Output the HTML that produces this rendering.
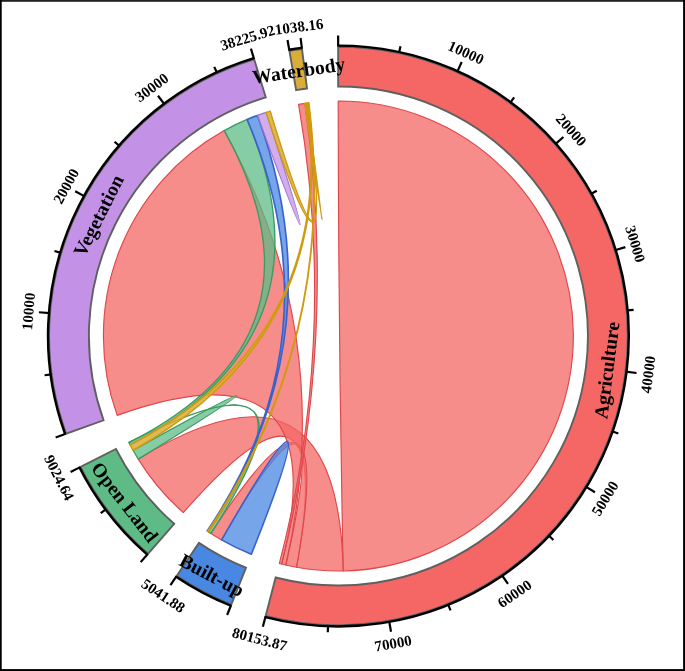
<!DOCTYPE html><html><head><meta charset="utf-8"><style>html,body{margin:0;padding:0;background:#fff;}svg{display:block;will-change:transform;filter:blur(0.3px);}text{font-family:"Liberation Serif",serif;font-weight:bold;fill:#000;}</style></head><body>
<svg width="685" height="671" viewBox="0 0 685 671">
<rect x="0" y="0" width="685" height="671" fill="#fff"/>
<path d="M338.15,46.70 A289.3,289.3 0 1 1 265.65,616.00 L275.66,577.48 A249.5,249.5 0 1 0 338.18,86.50 Z" fill="#F46764" stroke="#606060" stroke-width="1.9"/>
<path d="M231.23,604.72 A289.3,289.3 0 0 1 176.69,575.88 L198.93,542.88 A249.5,249.5 0 0 0 245.97,567.75 Z" fill="#4887E2" stroke="#606060" stroke-width="1.9"/>
<path d="M147.97,553.79 A289.3,289.3 0 0 1 80.46,466.99 L115.94,448.97 A249.5,249.5 0 0 0 174.17,523.83 Z" fill="#5EBB85" stroke="#606060" stroke-width="1.9"/>
<path d="M66.11,433.73 A289.3,289.3 0 0 1 254.15,59.24 L265.74,97.31 A249.5,249.5 0 0 0 103.57,420.28 Z" fill="#C392E6" stroke="#606060" stroke-width="1.9"/>
<path d="M289.41,50.88 A289.3,289.3 0 0 1 301.99,49.00 L307.00,88.48 A249.5,249.5 0 0 0 296.15,90.10 Z" fill="#D9AD38" stroke="#606060" stroke-width="1.9"/>
<path d="M338.19,101.00 A235.00,235.00 0 0 1 343.20,570.95 Q338.40,336.00 338.19,101.00 Z" fill="#F46764" fill-opacity="0.75" stroke="#DE474B" stroke-width="1.15" stroke-linejoin="round"/>
<path d="M343.20,570.95 A235.00,235.00 0 0 1 296.54,567.24 Q338.40,336.00 183.34,512.59 A235.00,235.00 0 0 1 138.24,459.14 Q338.40,336.00 343.20,570.95 Z" fill="#F46764" fill-opacity="0.75" stroke="#DE474B" stroke-width="1.15" stroke-linejoin="round"/>
<path d="M296.54,567.24 A235.00,235.00 0 0 1 285.78,565.03 Q338.40,336.00 221.61,539.92 A235.00,235.00 0 0 1 210.93,533.42 Q338.40,336.00 296.54,567.24 Z" fill="#F46764" fill-opacity="0.75" stroke="#DE474B" stroke-width="1.15" stroke-linejoin="round"/>
<path d="M285.78,565.03 A235.00,235.00 0 0 1 281.71,564.06 Q338.40,336.00 117.21,415.38 A235.00,235.00 0 0 1 224.25,130.58 Q338.40,336.00 285.78,565.03 Z" fill="#F46764" fill-opacity="0.75" stroke="#DE474B" stroke-width="1.15" stroke-linejoin="round"/>
<path d="M281.71,564.06 A235.00,235.00 0 0 1 279.36,563.46 Q338.40,336.00 298.60,104.39 A235.00,235.00 0 0 1 304.88,103.40 Q338.40,336.00 281.71,564.06 Z" fill="#F46764" fill-opacity="0.75" stroke="#DE474B" stroke-width="1.15" stroke-linejoin="round"/>
<path d="M251.34,554.28 A235.00,235.00 0 0 1 221.61,539.92 Q338.40,336.00 251.34,554.28 Z" fill="#4887E2" fill-opacity="0.75" stroke="#3A62CC" stroke-width="1.6" stroke-linejoin="round"/>
<path d="M138.24,459.14 A235.00,235.00 0 0 1 133.06,450.29 Q338.40,336.00 138.24,459.14 Z" fill="#5EBB85" fill-opacity="0.75" stroke="#3A9A62" stroke-width="1.3" stroke-linejoin="round"/>
<path d="M128.96,442.58 A235.00,235.00 0 0 1 128.83,442.32 Q338.40,336.00 210.93,533.42 A235.00,235.00 0 0 1 208.52,531.85 Q338.40,336.00 128.96,442.58 Z" fill="#5EBB85" fill-opacity="0.75" stroke="#3A9A62" stroke-width="1.3" stroke-linejoin="round"/>
<path d="M224.25,130.58 A235.00,235.00 0 0 1 247.11,119.46 Q338.40,336.00 130.18,444.95 A235.00,235.00 0 0 1 128.96,442.58 Q338.40,336.00 224.25,130.58 Z" fill="#5EBB85" fill-opacity="0.75" stroke="#3A9A62" stroke-width="1.3" stroke-linejoin="round"/>
<path d="M247.11,119.46 A235.00,235.00 0 0 1 257.45,115.38 Q338.40,336.00 207.67,531.28 A235.00,235.00 0 0 1 207.16,530.94 Q338.40,336.00 247.11,119.46 Z" fill="#4887E2" fill-opacity="0.75" stroke="#3A62CC" stroke-width="1.6" stroke-linejoin="round"/>
<path d="M257.45,115.38 A235.00,235.00 0 0 1 266.13,112.39 Q338.40,336.00 257.45,115.38 Z" fill="#C392E6" fill-opacity="0.75" stroke="#A070D0" stroke-width="1.2" stroke-linejoin="round"/>
<path d="M266.13,112.39 A235.00,235.00 0 0 1 270.20,111.11 Q338.40,336.00 306.30,103.20 A235.00,235.00 0 0 1 307.12,103.09 Q338.40,336.00 266.13,112.39 Z" fill="#D9AD38" fill-opacity="0.85" stroke="#D09A10" stroke-width="1.5" stroke-linejoin="round"/>
<path d="M133.06,450.29 A235.00,235.00 0 0 1 130.18,444.95 Q338.40,336.00 307.12,103.09 A235.00,235.00 0 0 1 308.34,102.93 Q338.40,336.00 133.06,450.29 Z" fill="#D9AD38" fill-opacity="0.85" stroke="#D09A10" stroke-width="1.5" stroke-linejoin="round"/>
<path d="M208.52,531.85 A235.00,235.00 0 0 1 207.67,531.28 Q338.40,336.00 308.34,102.93 A235.00,235.00 0 0 1 308.87,102.86 Q338.40,336.00 208.52,531.85 Z" fill="#D9AD38" fill-opacity="0.85" stroke="#D09A10" stroke-width="1.5" stroke-linejoin="round"/>
<path d="M304.88,103.40 A235.00,235.00 0 0 1 306.30,103.20 Q338.40,336.00 304.88,103.40 Z" fill="#D9AD38" fill-opacity="0.85" stroke="#D09A10" stroke-width="1.5" stroke-linejoin="round"/>
<path d="M338.15,45.60 A290.40,290.40 0 1 1 265.38,617.07" fill="none" stroke="#000" stroke-width="2.4"/>
<line x1="338.15" y1="46.40" x2="338.14" y2="35.60" stroke="#000" stroke-width="2.2"/>
<line x1="265.58" y1="616.29" x2="262.86" y2="626.75" stroke="#000" stroke-width="2.2"/>
<line x1="399.06" y1="52.82" x2="400.48" y2="46.17" stroke="#000" stroke-width="2.2"/>
<line x1="457.25" y1="71.91" x2="461.68" y2="62.06" stroke="#000" stroke-width="2.2"/>
<line x1="510.13" y1="102.81" x2="514.16" y2="97.34" stroke="#000" stroke-width="2.2"/>
<line x1="555.33" y1="144.14" x2="563.42" y2="136.99" stroke="#000" stroke-width="2.2"/>
<line x1="590.83" y1="194.05" x2="596.75" y2="190.72" stroke="#000" stroke-width="2.2"/>
<line x1="615.03" y1="250.31" x2="625.35" y2="247.12" stroke="#000" stroke-width="2.2"/>
<line x1="626.87" y1="310.41" x2="633.64" y2="309.81" stroke="#000" stroke-width="2.2"/>
<line x1="625.80" y1="371.64" x2="636.52" y2="372.97" stroke="#000" stroke-width="2.2"/>
<line x1="611.87" y1="431.29" x2="618.30" y2="433.52" stroke="#000" stroke-width="2.2"/>
<line x1="585.72" y1="486.67" x2="594.94" y2="492.29" stroke="#000" stroke-width="2.2"/>
<line x1="548.50" y1="535.31" x2="553.44" y2="539.99" stroke="#000" stroke-width="2.2"/>
<line x1="501.89" y1="575.04" x2="507.99" y2="583.95" stroke="#000" stroke-width="2.2"/>
<line x1="447.96" y1="604.07" x2="450.54" y2="610.37" stroke="#000" stroke-width="2.2"/>
<line x1="389.14" y1="621.12" x2="391.03" y2="631.75" stroke="#000" stroke-width="2.2"/>
<line x1="328.04" y1="625.41" x2="327.80" y2="632.21" stroke="#000" stroke-width="2.2"/>
<path d="M230.82,605.74 A290.40,290.40 0 0 1 176.07,576.79" fill="none" stroke="#000" stroke-width="2.4"/>
<line x1="231.12" y1="605.00" x2="227.12" y2="615.03" stroke="#000" stroke-width="2.2"/>
<line x1="176.52" y1="576.13" x2="170.48" y2="585.09" stroke="#000" stroke-width="2.2"/>
<path d="M147.25,554.62 A290.40,290.40 0 0 1 79.47,467.49" fill="none" stroke="#000" stroke-width="2.4"/>
<line x1="147.78" y1="554.01" x2="140.67" y2="562.15" stroke="#000" stroke-width="2.2"/>
<line x1="80.19" y1="467.13" x2="70.56" y2="472.02" stroke="#000" stroke-width="2.2"/>
<line x1="106.19" y1="509.05" x2="100.74" y2="513.11" stroke="#000" stroke-width="2.2"/>
<path d="M65.07,434.10 A290.40,290.40 0 0 1 253.83,58.19" fill="none" stroke="#000" stroke-width="2.4"/>
<line x1="65.82" y1="433.83" x2="55.66" y2="437.48" stroke="#000" stroke-width="2.2"/>
<line x1="254.07" y1="58.95" x2="250.92" y2="48.62" stroke="#000" stroke-width="2.2"/>
<line x1="51.35" y1="374.32" x2="44.61" y2="375.22" stroke="#000" stroke-width="2.2"/>
<line x1="49.71" y1="313.09" x2="38.94" y2="312.24" stroke="#000" stroke-width="2.2"/>
<line x1="60.98" y1="252.89" x2="54.47" y2="250.94" stroke="#000" stroke-width="2.2"/>
<line x1="84.66" y1="196.41" x2="75.20" y2="191.20" stroke="#000" stroke-width="2.2"/>
<line x1="119.69" y1="146.17" x2="114.56" y2="141.71" stroke="#000" stroke-width="2.2"/>
<line x1="164.51" y1="104.42" x2="158.02" y2="95.78" stroke="#000" stroke-width="2.2"/>
<line x1="217.10" y1="73.03" x2="214.25" y2="66.85" stroke="#000" stroke-width="2.2"/>
<path d="M289.22,49.79 A290.40,290.40 0 0 1 301.85,47.91" fill="none" stroke="#000" stroke-width="2.4"/>
<line x1="289.35" y1="50.58" x2="287.53" y2="39.94" stroke="#000" stroke-width="2.2"/>
<line x1="301.95" y1="48.70" x2="300.60" y2="37.99" stroke="#000" stroke-width="2.2"/>
<text x="465.95" y="52.58" font-size="15" text-anchor="middle" dominant-baseline="central" transform="rotate(24.23 465.95 52.58)">10000</text>
<text x="571.21" y="130.10" font-size="15" text-anchor="middle" dominant-baseline="central" transform="rotate(48.51 571.21 130.10)">20000</text>
<text x="635.28" y="244.04" font-size="15" text-anchor="middle" dominant-baseline="central" transform="rotate(72.79 635.28 244.04)">30000</text>
<text x="648.23" y="374.43" font-size="15" text-anchor="middle" dominant-baseline="central" transform="rotate(-82.93 648.23 374.43)">40000</text>
<text x="605.02" y="498.43" font-size="15" text-anchor="middle" dominant-baseline="central" transform="rotate(-58.65 605.02 498.43)">50000</text>
<text x="514.65" y="593.69" font-size="15" text-anchor="middle" dominant-baseline="central" transform="rotate(-34.37 514.65 593.69)">60000</text>
<text x="393.10" y="643.37" font-size="15" text-anchor="middle" dominant-baseline="central" transform="rotate(-10.09 393.10 643.37)">70000</text>
<text x="259.64" y="639.14" font-size="15" text-anchor="middle" dominant-baseline="central" transform="rotate(14.56 259.64 639.14)">80153.87</text>
<text x="606.93" y="370.19" font-size="19.6" text-anchor="middle" dominant-baseline="central" transform="rotate(-82.74 606.93 370.19)">Agriculture</text>
<text x="163.33" y="595.70" font-size="15" text-anchor="middle" dominant-baseline="central" transform="rotate(33.99 163.33 595.70)">5041.88</text>
<text x="211.88" y="575.31" font-size="19.6" text-anchor="middle" dominant-baseline="central" transform="rotate(27.86 211.88 575.31)">Built-up</text>
<text x="59.15" y="477.81" font-size="15" text-anchor="middle" dominant-baseline="central" transform="rotate(63.08 59.15 477.81)">9024.64</text>
<text x="124.73" y="502.21" font-size="19.6" text-anchor="middle" dominant-baseline="central" transform="rotate(52.12 124.73 502.21)">Open Land</text>
<text x="28.57" y="311.41" font-size="15" text-anchor="middle" dominant-baseline="central" transform="rotate(274.54 28.57 311.41)">10000</text>
<text x="66.09" y="186.19" font-size="15" text-anchor="middle" dominant-baseline="central" transform="rotate(298.82 66.09 186.19)">20000</text>
<text x="151.78" y="87.47" font-size="15" text-anchor="middle" dominant-baseline="central" transform="rotate(323.10 151.78 87.47)">30000</text>
<text x="247.60" y="37.71" font-size="15" text-anchor="middle" dominant-baseline="central" transform="rotate(343.07 247.60 37.71)">38225.92</text>
<text x="98.63" y="215.60" font-size="19.6" text-anchor="middle" dominant-baseline="central" transform="rotate(296.66 98.63 215.60)">Vegetation</text>
<text x="299.16" y="26.68" font-size="15" text-anchor="middle" dominant-baseline="central" transform="rotate(352.77 299.16 26.68)">1038.16</text>
<text x="298.79" y="70.64" font-size="19.6" text-anchor="middle" dominant-baseline="central" transform="rotate(351.51 298.79 70.64)">Waterbody</text>
<rect x="0" y="0" width="685" height="1.8" fill="#222"/>
<rect x="0" y="0" width="1.7" height="671" fill="#000"/>
<rect x="683.1" y="0" width="1.9" height="671" fill="#000"/>
<rect x="0" y="669.1" width="685" height="1.9" fill="#000"/>
</svg></body></html>
